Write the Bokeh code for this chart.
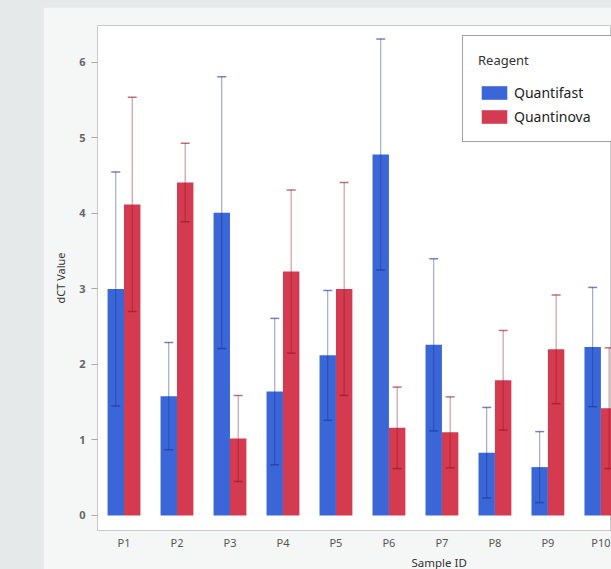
import numpy as np
from bokeh.plotting import figure
from bokeh.models import (Range1d, FixedTicker, ColumnDataSource, Whisker, TeeHead,
                          Legend, LegendItem, Title, Spacer, GlobalInlineStyleSheet)
from bokeh.layouts import row, column
from bokeh.transform import dodge
from bokeh.embed import file_html
from bokeh.resources import INLINE

# ---- data ----
samples = ["P1", "P2", "P3", "P4", "P5", "P6", "P7", "P8", "P9", "P10"]
quantifast_mean = [3.00, 1.58, 4.01, 1.64, 2.12, 4.78, 2.26, 0.83, 0.64, 2.23]
quantifast_err = [1.55, 0.71, 1.80, 0.97, 0.86, 1.53, 1.14, 0.60, 0.47, 0.79]
quantinova_mean = [4.12, 4.41, 1.02, 3.23, 3.00, 1.16, 1.10, 1.79, 2.20, 1.42]
quantinova_err = [1.42, 0.52, 0.57, 1.08, 1.41, 0.54, 0.47, 0.66, 0.72, 0.80]
series_names = ["Quantifast", "Quantinova"]
y_ticks = [0, 1, 2, 3, 4, 5, 6]

FONT = "Noto Sans"
BLUE = "#3a66d8"
RED = "#d53b50"
BLUE_ERR = "#1a3590"
RED_ERR = "#8c1525"

qf = np.array(quantifast_mean)
qfe = np.array(quantifast_err)
qn = np.array(quantinova_mean)
qne = np.array(quantinova_err)
pos = np.arange(len(samples)) + 0.5

src = ColumnDataSource(dict(
    x=pos, qf=qf, qf_lo=qf - qfe, qf_hi=qf + qfe,
    qn=qn, qn_lo=qn - qne, qn_hi=qn + qne,
))

p = figure(width=568, height=562,
           x_range=Range1d(0, 9.7), y_range=Range1d(-0.2, 6.49),
           output_backend="svg", toolbar_location=None,
           min_border_left=54, min_border_right=0,
           min_border_top=18, min_border_bottom=39,
           border_fill_color="#f5f6f6", background_fill_color="white",
           outline_line_color="#c9c9c9", outline_line_width=1)

p.xgrid.visible = False
p.ygrid.visible = False

BW = 0.31
r_qf = p.vbar(x=dodge("x", -BW / 2), top="qf", width=BW, source=src,
              fill_color=BLUE, line_color=None)
r_qn = p.vbar(x=dodge("x", BW / 2), top="qn", width=BW, source=src,
              fill_color=RED, line_color=None)

for col, off, c in (("qf", -BW / 2, BLUE_ERR), ("qn", BW / 2, RED_ERR)):
    w = Whisker(base=dodge("x", off), upper=col + "_hi", lower=col + "_lo", source=src,
                line_color=c, line_alpha=0.5, line_width=1,
                upper_head=TeeHead(size=9, line_color=c, line_alpha=0.6, line_width=1.5),
                lower_head=TeeHead(size=9, line_color=c, line_alpha=0.6, line_width=1.5))
    w.level = "annotation"
    p.add_layout(w)

# x axis
p.xaxis.ticker = FixedTicker(ticks=list(pos))
p.xaxis.major_label_overrides = {float(v): s for v, s in zip(pos, samples)}
p.xaxis.major_tick_out = 0
p.xaxis.major_tick_in = 0
p.xaxis.minor_tick_line_color = None
p.xaxis.axis_line_color = "#c9c9c9"
p.xaxis.major_label_standoff = 4
p.xaxis.major_label_text_font = FONT
p.xaxis.major_label_text_font_size = "11px"
p.xaxis.major_label_text_color = "#555555"

# y axis
p.yaxis.ticker = FixedTicker(ticks=y_ticks)
p.yaxis.major_tick_out = 6
p.yaxis.major_tick_in = 0
p.yaxis.major_tick_line_color = "#a8a8a8"
p.yaxis.minor_tick_line_color = None
p.yaxis.axis_line_color = "#c9c9c9"
p.yaxis.major_label_standoff = 6
p.yaxis.major_label_text_font = FONT
p.yaxis.major_label_text_font_size = "11px"
p.yaxis.major_label_text_font_style = "bold"
p.yaxis.major_label_text_color = "#666666"
p.yaxis.axis_label = "dCT Value"
p.yaxis.axis_label_text_font = FONT
p.yaxis.axis_label_text_font_size = "11px"
p.yaxis.axis_label_text_font_style = "normal"
p.yaxis.axis_label_text_color = "#333333"
p.yaxis.axis_label_standoff = 8

xt = Title(text="Sample ID", align="left", offset=314, standoff=0,
           text_font=FONT, text_font_size="11.5px", text_font_style="normal",
           text_color="#333333")
p.add_layout(xt, "below")

legend = Legend(
    items=[LegendItem(label=series_names[0], renderers=[r_qf]),
           LegendItem(label=series_names[1], renderers=[r_qn])],
    title="Reagent", location=(365, 388),
    title_text_font=FONT, title_text_font_size="13px", title_text_color="#333333",
    title_text_font_style="normal", title_standoff=14,
    label_text_font=FONT, label_text_font_size="14px", label_text_color="#222222",
    glyph_width=32, glyph_height=17, label_height=17, label_width=110,
    label_standoff=4, spacing=5, padding=15, margin=0,
    border_line_color="#444444", border_line_width=1.5,
    background_fill_color="white", background_fill_alpha=1.0,
)
p.add_layout(legend)

layout = column(Spacer(width=611, height=7), row(Spacer(width=43, height=562), p))
layout.stylesheets = [GlobalInlineStyleSheet(css="body { background-color: #e6e9e9; }")]

open("out.html", "w").write(file_html(layout, INLINE))
